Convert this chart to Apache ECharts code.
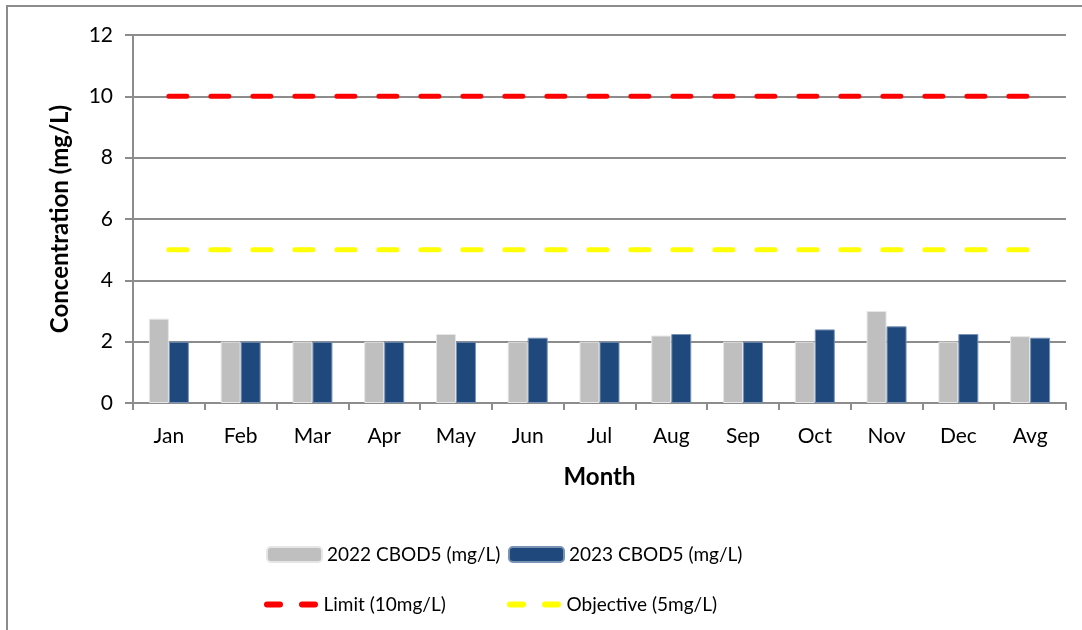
<!DOCTYPE html>
<html lang="en">
<head>
    <meta charset="UTF-8">
    <title>CBOD5 Concentration</title>
    <script src="https://cdn.jsdelivr.net/npm/echarts@6/dist/echarts.min.js"></script>
    <style>
        html, body { margin: 0; padding: 0; background: #fff; }
        #chart { width: 1082px; height: 630px; }
    </style>
</head>
<body>
    <div id="chart"></div>
    <script>
        // chart data
        const months = ['Jan', 'Feb', 'Mar', 'Apr', 'May', 'Jun', 'Jul', 'Aug', 'Sep', 'Oct', 'Nov', 'Dec', 'Avg'];
        const cbod2022 = [2.75, 2.0, 2.0, 2.0, 2.25, 2.0, 2.0, 2.2, 2.0, 2.0, 3.0, 2.0, 2.18];
        const cbod2023 = [2.0, 2.0, 2.0, 2.0, 2.0, 2.13, 2.0, 2.25, 2.0, 2.4, 2.5, 2.25, 2.13];
        const limitValues = [10, 10, 10, 10, 10, 10, 10, 10, 10, 10, 10, 10, 10];
        const objectiveValues = [5, 5, 5, 5, 5, 5, 5, 5, 5, 5, 5, 5, 5];
        const yTicks = [0, 2, 4, 6, 8, 10, 12];

        const FONT = 'Lato, "Open Sans", sans-serif';
        const GRID_GREY = '#8c8c8c';
        // two rounded dashes, used as legend icon for the dashed lines
        const DASH_ICON = 'path://M3,0 h13 a3,3 0 0 1 0,6 h-13 a3,3 0 0 1 0,-6 Z M38,0 h13 a3,3 0 0 1 0,6 h-13 a3,3 0 0 1 0,-6 Z';

        const chart = echarts.init(document.getElementById('chart'), null, { renderer: 'canvas' });

        const legendText = { fontFamily: FONT, fontSize: 19, color: '#000' };
        function legendAt(name, left, top, icon) {
            return {
                data: [icon ? { name: name, icon: icon } : name],
                left: left,
                top: top,
                itemWidth: 55,
                itemHeight: icon ? 6 : 15,
                itemGap: 0,
                textStyle: legendText,
                selectedMode: false
            };
        }

        chart.setOption({
            animation: false,
            backgroundColor: '#fff',
            graphic: [{
                type: 'rect',
                shape: { x: 7, y: 6, width: 1100, height: 700 },
                style: { fill: 'none', stroke: GRID_GREY, lineWidth: 2 },
                silent: true
            }],
            grid: { left: 133, right: 16, top: 35, bottom: 227 },
            legend: [
                legendAt('2022 CBOD5 (mg/L)', 261, 540),
                legendAt('2023 CBOD5 (mg/L)', 503, 540),
                legendAt('Limit (10mg/L)', 259, 590, DASH_ICON),
                legendAt('Objective (5mg/L)', 502, 590, DASH_ICON)
            ],
            xAxis: {
                type: 'category',
                data: months,
                name: 'Month',
                nameLocation: 'middle',
                nameGap: 62,
                nameTextStyle: { fontFamily: FONT, fontSize: 24, fontWeight: 'bold', color: '#000' },
                axisLine: { lineStyle: { color: GRID_GREY, width: 2 } },
                axisTick: { show: true, length: 7, lineStyle: { color: GRID_GREY, width: 2 } },
                axisLabel: { fontFamily: FONT, fontSize: 21, color: '#000', margin: 23 }
            },
            yAxis: {
                type: 'value',
                min: yTicks[0],
                max: yTicks[yTicks.length - 1],
                interval: 2,
                name: 'Concentration (mg/L)',
                nameLocation: 'middle',
                nameGap: 61,
                nameTextStyle: { fontFamily: FONT, fontSize: 24, fontWeight: 'bold', color: '#000' },
                axisLine: { show: true, lineStyle: { color: GRID_GREY, width: 2 } },
                axisTick: { show: true, length: 8, lineStyle: { color: GRID_GREY, width: 2 } },
                axisLabel: { fontFamily: FONT, fontSize: 21, color: '#000', margin: 20 },
                splitLine: { lineStyle: { color: GRID_GREY, width: 2 } }
            },
            series: [
                {
                    name: '2022 CBOD5 (mg/L)',
                    type: 'bar',
                    data: cbod2022,
                    barWidth: 20,
                    barGap: '0%',
                    itemStyle: { color: '#bfbfbf', borderColor: '#e6e6e6', borderWidth: 1 }
                },
                {
                    name: '2023 CBOD5 (mg/L)',
                    type: 'bar',
                    data: cbod2023,
                    barWidth: 20,
                    barGap: '0%',
                    itemStyle: { color: '#1f497d', borderColor: '#7a93b4', borderWidth: 1 }
                },
                {
                    name: 'Limit (10mg/L)',
                    type: 'line',
                    data: limitValues,
                    symbol: 'none',
                    itemStyle: { color: '#ff0000' },
                    lineStyle: { color: '#ff0000', width: 5, type: [18, 24], cap: 'round' },
                    z: 5
                },
                {
                    name: 'Objective (5mg/L)',
                    type: 'line',
                    data: objectiveValues,
                    symbol: 'none',
                    itemStyle: { color: '#ffff00' },
                    lineStyle: { color: '#ffff00', width: 5, type: [18, 24], cap: 'round' },
                    z: 5
                }
            ]
        });
    </script>
</body>
</html>
